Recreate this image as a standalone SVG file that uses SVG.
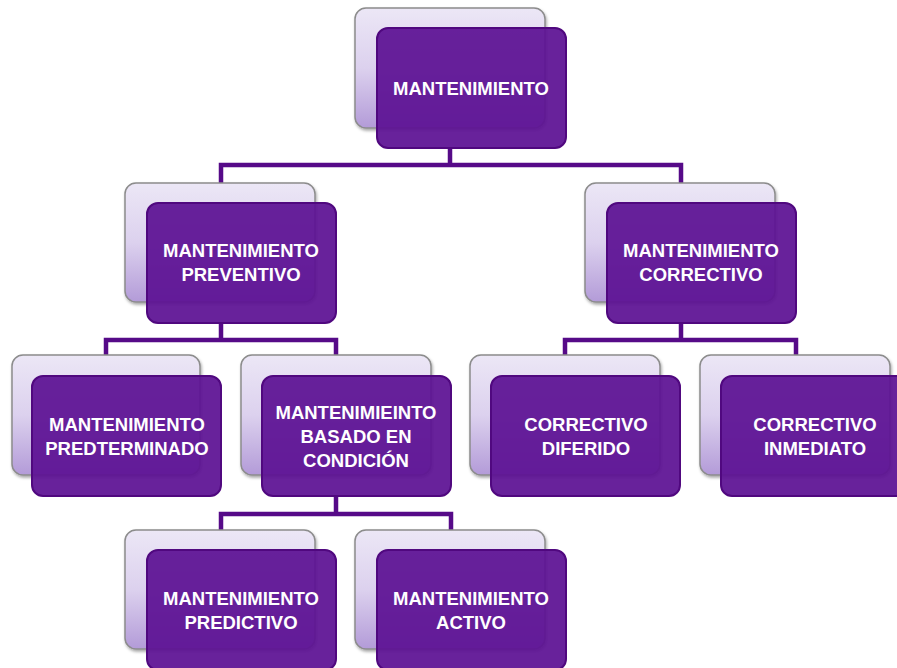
<svg xmlns="http://www.w3.org/2000/svg" width="897" height="668" viewBox="0 0 897 668">
<defs>
<linearGradient id="bg" x1="0" y1="0" x2="0" y2="1">
<stop offset="0" stop-color="#ece7f6"/>
<stop offset="0.5" stop-color="#dcd1ee"/>
<stop offset="1" stop-color="#b39bd8"/>
</linearGradient>
<filter id="sh" x="-10%" y="-10%" width="125%" height="130%">
<feDropShadow dx="1" dy="2" stdDeviation="1.5" flood-color="#000" flood-opacity="0.35"/>
</filter>
</defs>
<style>
.back{fill:url(#bg);stroke:#8c8c8c;stroke-width:1.5;filter:url(#sh)}
.front{fill:#5c1193;fill-opacity:0.93;stroke:#50087f;stroke-width:2}
.t{font-family:"Liberation Sans",Arial,sans-serif;font-weight:bold;font-size:18.5px;fill:#ffffff;text-anchor:middle}
.c{fill:none;stroke:#560a88;stroke-width:4.5}
</style>
<rect width="897" height="668" fill="#ffffff"/>
<g id="connectors">
<path class="c" d="M450 148 V165 M221 183 V165 H681 V183"/>
<path class="c" d="M221 323 V340 M106 355 V340 H336 V355"/>
<path class="c" d="M681 323 V340 M565 355 V340 H796 V355"/>
<path class="c" d="M336 496 V514 M221 530 V514 H451 V530"/>
</g>
<g id="n-mantenimiento">
<rect class="back" x="355" y="8" width="190" height="120" rx="11"/>
<rect class="front" x="377" y="28" width="189" height="120" rx="11"/>
<text class="t" x="471" y="95">MANTENIMIENTO</text>
</g>
<g id="n-preventivo">
<rect class="back" x="125" y="183" width="190" height="119" rx="11"/>
<rect class="front" x="147" y="203" width="189" height="120" rx="11"/>
<text class="t" x="241" y="257">MANTENIMIENTO</text>
<text class="t" x="241" y="281">PREVENTIVO</text>
</g>
<g id="n-correctivo">
<rect class="back" x="585" y="183" width="190" height="119" rx="11"/>
<rect class="front" x="607" y="203" width="189" height="120" rx="11"/>
<text class="t" x="701" y="257">MANTENIMIENTO</text>
<text class="t" x="701" y="281">CORRECTIVO</text>
</g>
<g id="n-predeterminado">
<rect class="back" x="12" y="355" width="188" height="120" rx="11"/>
<rect class="front" x="32" y="376" width="189" height="120" rx="11"/>
<text class="t" x="127" y="431">MANTENIMIENTO</text>
<text class="t" x="127" y="455">PREDTERMINADO</text>
</g>
<g id="n-basado">
<rect class="back" x="241" y="355" width="190" height="120" rx="11"/>
<rect class="front" x="262" y="376" width="189" height="120" rx="11"/>
<text class="t" x="356" y="419">MANTENIMIEINTO</text>
<text class="t" x="356" y="443">BASADO EN</text>
<text class="t" x="356" y="467">CONDICIÓN</text>
</g>
<g id="n-diferido">
<rect class="back" x="470" y="355" width="190" height="120" rx="11"/>
<rect class="front" x="491" y="376" width="189" height="120" rx="11"/>
<text class="t" x="586" y="431">CORRECTIVO</text>
<text class="t" x="586" y="455">DIFERIDO</text>
</g>
<g id="n-inmediato">
<rect class="back" x="700" y="355" width="190" height="120" rx="11"/>
<rect class="front" x="721" y="376" width="189" height="120" rx="11"/>
<text class="t" x="815" y="431">CORRECTIVO</text>
<text class="t" x="815" y="455">INMEDIATO</text>
</g>
<g id="n-predictivo">
<rect class="back" x="125" y="530" width="190" height="119" rx="11"/>
<rect class="front" x="147" y="550" width="189" height="120" rx="11"/>
<text class="t" x="241" y="605">MANTENIMIENTO</text>
<text class="t" x="241" y="629">PREDICTIVO</text>
</g>
<g id="n-activo">
<rect class="back" x="355" y="530" width="190" height="119" rx="11"/>
<rect class="front" x="377" y="550" width="189" height="120" rx="11"/>
<text class="t" x="471" y="605">MANTENIMIENTO</text>
<text class="t" x="471" y="629">ACTIVO</text>
</g>
</svg>
